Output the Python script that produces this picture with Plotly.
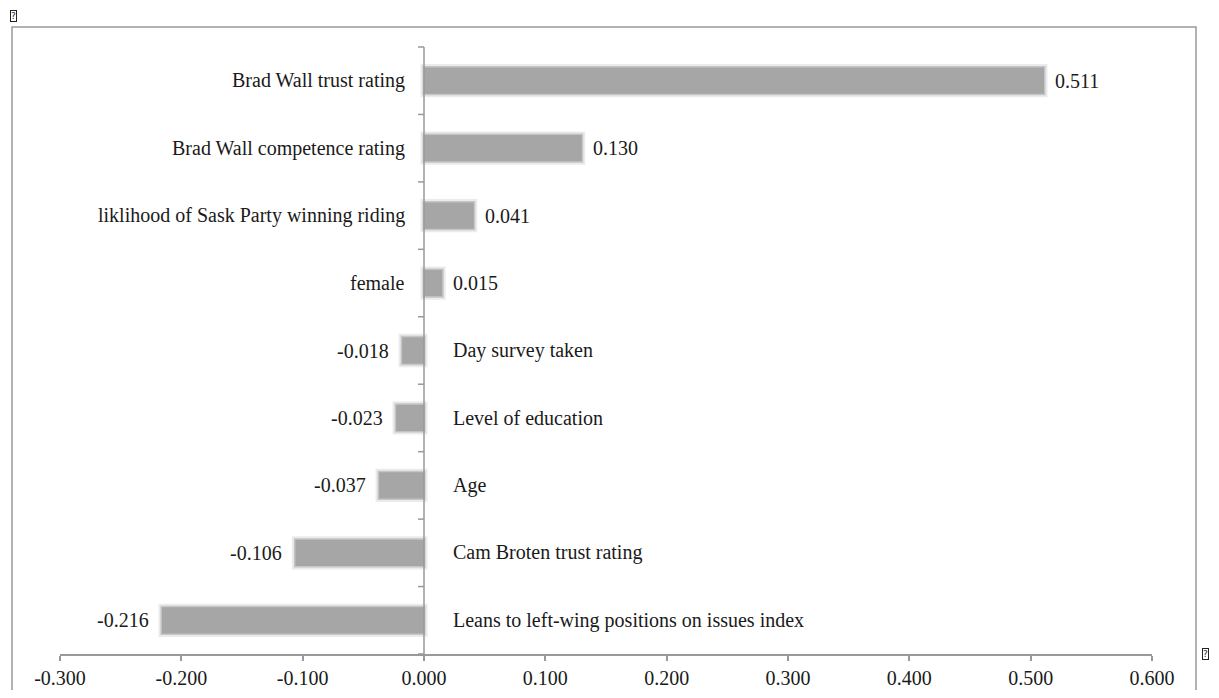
import plotly.graph_objects as go

categories = [
    "Brad Wall trust rating",
    "Brad Wall competence rating",
    "liklihood of Sask Party winning riding",
    "female",
    "Day survey taken",
    "Level of education",
    "Age",
    "Cam Broten trust rating",
    "Leans to left-wing positions on issues index",
]
values = [0.511, 0.130, 0.041, 0.015, -0.018, -0.023, -0.037, -0.106, -0.216]
x_ticks = [-0.3, -0.2, -0.1, 0.0, 0.1, 0.2, 0.3, 0.4, 0.5, 0.6]
x_tick_labels = ["-0.300", "-0.200", "-0.100", "0.000", "0.100", "0.200",
                 "0.300", "0.400", "0.500", "0.600"]

FONT = "Liberation Serif"
TXT = "#1a1a1a"
BAR = "#a6a6a6"
AX = "#999999"

# page body has an 8px margin; figure coordinates = screen - 8
W, H = 1203, 682
OFF = 8

fig = go.Figure()
# soft halo to imitate the blurred bar edges
fig.add_trace(go.Bar(
    y=categories, x=values, orientation="h",
    marker=dict(color="rgba(166,166,166,0.0)",
                line=dict(color="rgba(166,166,166,0.22)", width=7)),
    width=0.39, hoverinfo="skip", showlegend=False,
))
fig.add_trace(go.Bar(
    y=categories, x=values, orientation="h",
    marker=dict(color=BAR, line=dict(color="rgba(166,166,166,0.55)", width=3)),
    width=0.39, showlegend=False,
))

annotations = []
for cat, v in zip(categories, values):
    if v >= 0:
        annotations.append(dict(x=0, y=cat, xref="x", yref="y", text=cat,
                                showarrow=False, xanchor="right", yanchor="middle",
                                xshift=-17, font=dict(family=FONT, size=20, color=TXT)))
        annotations.append(dict(x=v, y=cat, xref="x", yref="y", text=f"{v:.3f}",
                                showarrow=False, xanchor="left", yanchor="middle",
                                xshift=9, font=dict(family=FONT, size=20, color=TXT)))
    else:
        annotations.append(dict(x=0, y=cat, xref="x", yref="y", text=cat,
                                showarrow=False, xanchor="left", yanchor="middle",
                                xshift=27, font=dict(family=FONT, size=20, color=TXT)))
        annotations.append(dict(x=v, y=cat, xref="x", yref="y", text=f"{v:.3f}",
                                showarrow=False, xanchor="right", yanchor="middle",
                                xshift=-11, font=dict(family=FONT, size=20, color=TXT)))

# plot area in screen pixels: x 60..1152, y 47..654
L = 60 - OFF
T = 47 - OFF
R = W - (1152 - OFF)
B = H - (654 - OFF)
pw = W - L - R
ph = H - T - B


def px2paper(sx, sy):
    fx, fy = sx - OFF, sy - OFF
    return (fx - L) / pw, (H - B - fy) / ph


# small missing-glyph boxes seen in the corners of the reference
for (sx, sy, xa) in [(10, 16, "left"), (1205, 654, "center")]:
    ax_, ay_ = px2paper(sx, sy)
    annotations.append(dict(x=ax_, y=ay_, xref="paper", yref="paper", text="?",
                            showarrow=False, xanchor=xa, yanchor="middle",
                            font=dict(family="DejaVu Sans", size=9, color="#222"),
                            bordercolor="#222", borderwidth=1, borderpad=0))

bx0, by1 = px2paper(12, 27)
bx1, by0 = px2paper(1196, 720)
shapes = [
    # y axis line at x=0
    dict(type="line", xref="x", yref="paper", x0=0, x1=0, y0=0, y1=1,
         line=dict(color=AX, width=1.5)),
    # outer chart border
    dict(type="rect", xref="paper", yref="paper",
         x0=bx0, x1=bx1, y0=by0, y1=by1,
         line=dict(color=AX, width=1.5), fillcolor="rgba(0,0,0,0)",
         layer="below"),
]
# y-axis boundary tick marks pointing left from the zero line
for i in range(len(categories) + 1):
    yp = i / len(categories)
    shapes.append(dict(type="line", xref="x", yref="paper", xsizemode="pixel",
                       xanchor=0, x0=-6, x1=0, y0=yp, y1=yp,
                       line=dict(color=AX, width=1.5)))

fig.update_layout(
    width=W, height=H,
    margin=dict(l=L, r=R, t=T, b=B, autoexpand=False),
    paper_bgcolor="white", plot_bgcolor="white",
    barmode="overlay",
    font=dict(family=FONT, size=20, color=TXT),
    xaxis=dict(range=[-0.3, 0.6], tickvals=x_ticks, ticktext=x_tick_labels,
               showgrid=False, zeroline=False, showline=True,
               linecolor=AX, linewidth=1.5, ticks="outside",
               ticklen=5, tickcolor=AX, tickwidth=1.5,
               tickfont=dict(family=FONT, size=20, color=TXT)),
    yaxis=dict(categoryorder="array", categoryarray=categories,
               autorange="reversed", showticklabels=False, showgrid=False,
               zeroline=False, showline=False, ticks=""),
    annotations=annotations,
    shapes=shapes,
)

fig.write_html("out.html")
